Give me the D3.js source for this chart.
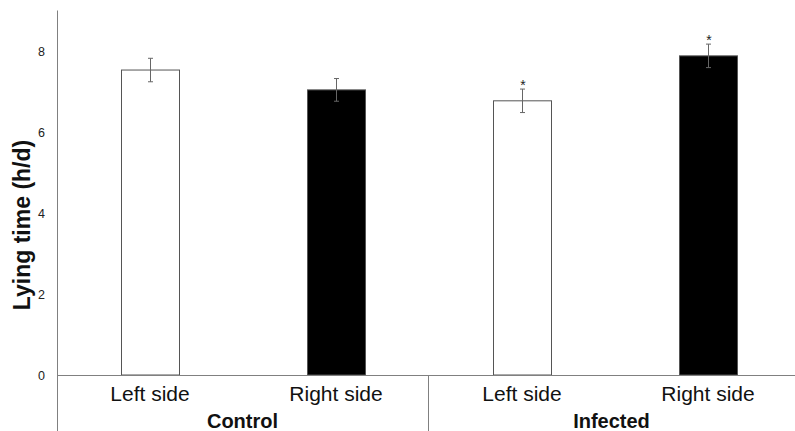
<!DOCTYPE html>
<html><head><meta charset="utf-8">
<script src="https://cdn.jsdelivr.net/npm/d3@7"></script>
<style>body{margin:0;background:#fff}svg{display:block}text{font-family:"Liberation Sans",Arial,sans-serif}</style>
</head><body>
<svg id="c" width="795" height="431"></svg>
<script>
const categories = ["Left side", "Right side", "Left side", "Right side"];
const groups = ["Control", "Infected"];
const values = [7.53, 7.04, 6.77, 7.88];
const errors = [0.29, 0.28, 0.29, 0.29];
const fills = ["#ffffff", "#000000", "#ffffff", "#000000"];
const significant = [false, false, true, true];
const yTicks = [0, 2, 4, 6, 8];

const svg = d3.select("#c");
const x0 = 57, yZero = 375;
const y = d3.scaleLinear().domain([0, 9]).range([yZero, yZero - 9 * 40.5]);
const x = d3.scaleBand().domain(d3.range(categories.length)).range([x0, x0 + 744]);
const bw = 58;

// y axis
const yAxis = d3.axisLeft(y).tickValues(yTicks).tickSize(0).tickPadding(12).tickFormat(d3.format("d"));
const ga = svg.append("g").attr("transform", `translate(${x0},0)`).call(yAxis);
ga.select(".domain").remove();
ga.selectAll("text").attr("font-size", 12.5).attr("fill", "#222");
svg.append("line").attr("x1", x0 + 0.5).attr("x2", x0 + 0.5).attr("y1", y(9)).attr("y2", 431).attr("stroke", "#808080").attr("stroke-width", 1);

// bars
const cx = i => x(i) + x.bandwidth() / 2;
svg.selectAll("rect.bar").data(values).enter().append("rect")
  .attr("x", (d, i) => Math.round(cx(i) - bw / 2) + 0.5)
  .attr("y", d => y(d))
  .attr("width", bw)
  .attr("height", d => yZero - y(d))
  .attr("fill", (d, i) => fills[i])
  .attr("stroke", "#555").attr("stroke-width", 1);

// x axis line
svg.append("line").attr("x1", x0).attr("x2", 795).attr("y1", yZero + 0.5).attr("y2", yZero + 0.5).attr("stroke", "#808080");
svg.append("line").attr("x1", 428.5).attr("x2", 428.5).attr("y1", yZero).attr("y2", 431).attr("stroke", "#808080");

// error bars
const eb = svg.append("g").attr("stroke", "#666").attr("stroke-width", 1);
values.forEach((v, i) => {
  const c = Math.round(cx(i)) + 0.5;
  eb.append("line").attr("x1", c).attr("x2", c).attr("y1", y(v + errors[i])).attr("y2", y(v - errors[i]));
  eb.append("line").attr("x1", c - 2.5).attr("x2", c + 2.5).attr("y1", y(v + errors[i])).attr("y2", y(v + errors[i]));
  eb.append("line").attr("x1", c - 2.5).attr("x2", c + 2.5).attr("y1", y(v - errors[i])).attr("y2", y(v - errors[i]));
  if (significant[i]) {
    svg.append("text").attr("x", c + 0.5).attr("y", y(v + errors[i]) + 1).attr("text-anchor", "middle")
      .attr("font-size", 14).attr("fill", "#222").text("*");
  }
});

// category labels
svg.selectAll("text.cat").data(categories).enter().append("text")
  .attr("x", (d, i) => cx(i)).attr("y", 401).attr("text-anchor", "middle")
  .attr("font-size", 21).attr("fill", "#111")
  .text(d => d);

// group labels
const gc = [(x0 + 428) / 2, (428 + 795) / 2];
svg.selectAll("text.grp").data(groups).enter().append("text")
  .attr("x", (d, i) => gc[i]).attr("y", 428).attr("text-anchor", "middle")
  .attr("font-size", 20).attr("font-weight", "bold").attr("fill", "#111")
  .text(d => d);

// y title
svg.append("text").attr("transform", "translate(30,225) rotate(-90)").attr("text-anchor", "middle")
  .attr("font-size", 23).attr("font-weight", "bold").attr("fill", "#111").text("Lying time (h/d)");
</script>
</body></html>
